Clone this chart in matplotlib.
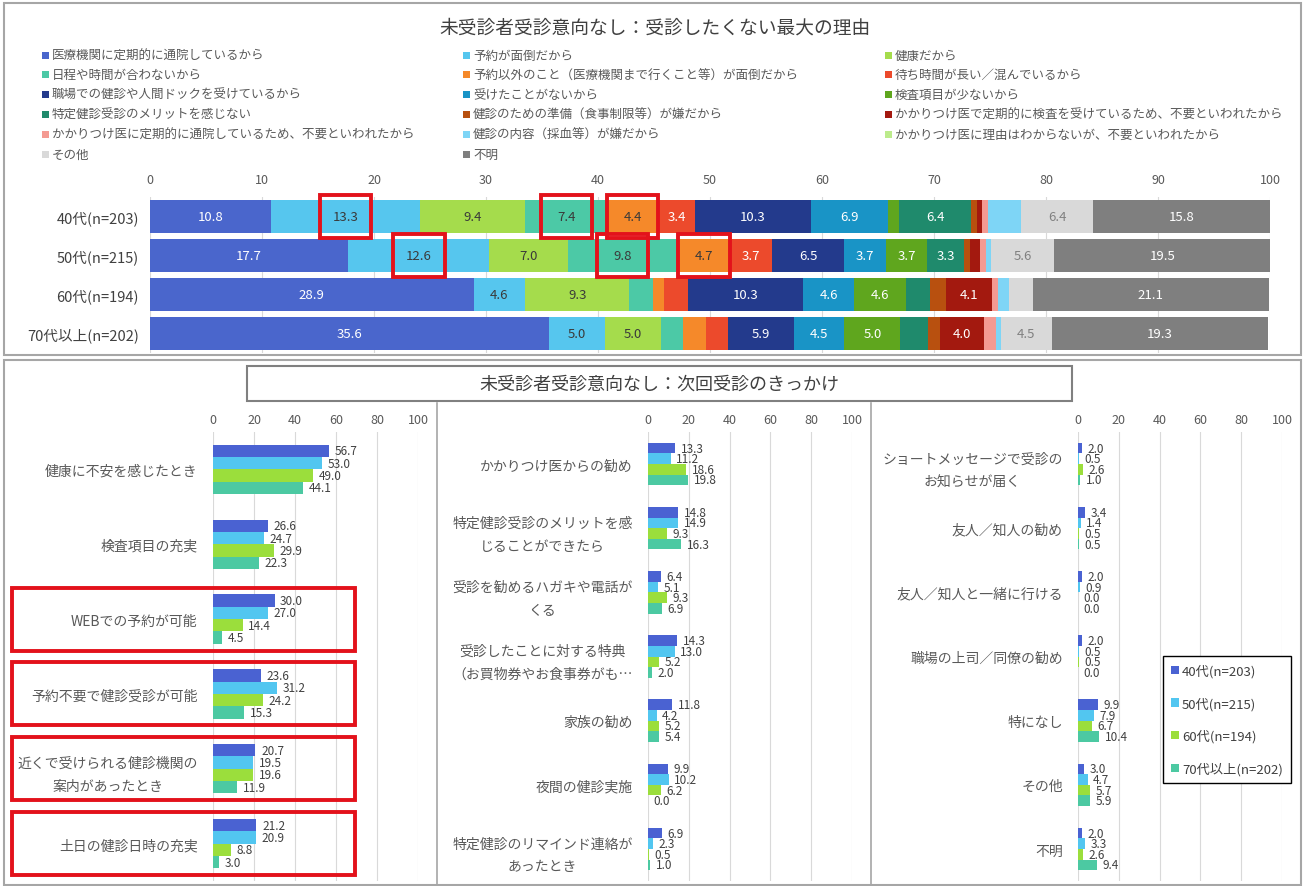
import matplotlib
matplotlib.use('Agg')
import matplotlib.pyplot as plt
from matplotlib.patches import Rectangle, Patch
import matplotlib.transforms as mtransforms
import numpy as np

plt.rcParams['font.family'] = ['Noto Sans CJK JP', 'DejaVu Sans']

W, H = 1306, 887

# ---------------- top chart data ----------------
ages = ['40代(n=203)', '50代(n=215)', '60代(n=194)', '70代以上(n=202)']
reasons = [
    '医療機関に定期的に通院しているから',
    '予約が面倒だから',
    '健康だから',
    '日程や時間が合わないから',
    '予約以外のこと（医療機関まで行くこと等）が面倒だから',
    '待ち時間が長い／混んでいるから',
    '職場での健診や人間ドックを受けているから',
    '受けたことがないから',
    '検査項目が少ないから',
    '特定健診受診のメリットを感じない',
    '健診のための準備（食事制限等）が嫌だから',
    'かかりつけ医で定期的に検査を受けているため、不要といわれたから',
    'かかりつけ医に定期的に通院しているため、不要といわれたから',
    '健診の内容（採血等）が嫌だから',
    'かかりつけ医に理由はわからないが、不要といわれたから',
    'その他',
    '不明',
]
reason_colors = ['#4A66CC', '#56C6EE', '#A5DC4C', '#4CC9A6', '#F5892A', '#EC4A2C',
                 '#233A8C', '#1994C6', '#5FA61E', '#1F8A6C', '#B8500F', '#A3190F',
                 '#F49A92', '#7ED5F6', '#BCEB8C', '#D9D9D9', '#7F7F7F']
label_colors = ['white', '#3A3A3A', '#3A3A3A', '#3A3A3A', '#3A3A3A', 'white',
                'white', 'white', 'white', 'white', 'white', 'white',
                '#3A3A3A', '#3A3A3A', '#3A3A3A', '#808080', 'white']

top_40 = [10.8, 13.3, 9.4, 7.4, 4.4, 3.4, 10.3, 6.9, 1.0, 6.4, 0.5, 0.5, 0.5, 3.0, 0.0, 6.4, 15.8]
top_50 = [17.7, 12.6, 7.0, 9.8, 4.7, 3.7, 6.5, 3.7, 3.7, 3.3, 0.5, 0.9, 0.5, 0.5, 0.0, 5.6, 19.5]
top_60 = [28.9, 4.6, 9.3, 2.1, 1.0, 2.1, 10.3, 4.6, 4.6, 2.1, 1.5, 4.1, 0.5, 1.0, 0.0, 2.1, 21.1]
top_70 = [35.6, 5.0, 5.0, 2.0, 2.0, 2.0, 5.9, 4.5, 5.0, 2.5, 1.0, 4.0, 1.0, 0.5, 0.0, 4.5, 19.3]

# highlighted (row, reason) pairs
top_marked = [(0, 1), (0, 3), (0, 4), (1, 1), (1, 3), (1, 4)]

# ---------------- bottom chart data ----------------
series_names = ['40代(n=203)', '50代(n=215)', '60代(n=194)', '70代以上(n=202)']
series_colors = ['#4A62D2', '#52C6F0', '#9BDE3C', '#4CC9A2']

p1_cats = ['健康に不安を感じたとき', '検査項目の充実', 'WEBでの予約が可能',
           '予約不要で健診受診が可能', '近くで受けられる健診機関の\n案内があったとき',
           '土日の健診日時の充実']
p1_40 = [56.7, 26.6, 30.0, 23.6, 20.7, 21.2]
p1_50 = [53.0, 24.7, 27.0, 31.2, 19.5, 20.9]
p1_60 = [49.0, 29.9, 14.4, 24.2, 19.6, 8.8]
p1_70 = [44.1, 22.3, 4.5, 15.3, 11.9, 3.0]

p2_cats = ['かかりつけ医からの勧め', '特定健診受診のメリットを感\nじることができたら',
           '受診を勧めるハガキや電話が\nくる', '受診したことに対する特典\n（お買物券やお食事券がも…',
           '家族の勧め', '夜間の健診実施', '特定健診のリマインド連絡が\nあったとき']
p2_40 = [13.3, 14.8, 6.4, 14.3, 11.8, 9.9, 6.9]
p2_50 = [11.2, 14.9, 5.1, 13.0, 4.2, 10.2, 2.3]
p2_60 = [18.6, 9.3, 9.3, 5.2, 5.2, 6.2, 0.5]
p2_70 = [19.8, 16.3, 6.9, 2.0, 5.4, 0.0, 1.0]

p3_cats = ['ショートメッセージで受診の\nお知らせが届く', '友人／知人の勧め', '友人／知人と一緒に行ける',
           '職場の上司／同僚の勧め', '特になし', 'その他', '不明']
p3_40 = [2.0, 3.4, 2.0, 2.0, 9.9, 3.0, 2.0]
p3_50 = [0.5, 1.4, 0.9, 0.5, 7.9, 4.7, 3.3]
p3_60 = [2.6, 0.5, 0.0, 0.5, 6.7, 5.7, 2.6]
p3_70 = [1.0, 0.5, 0.0, 0.0, 10.4, 5.9, 9.4]

p1_marked = [2, 3, 4, 5]

RED = '#E3121B'
GRID = '#D9D9D9'
TXT = '#595959'

fig = plt.figure(figsize=(W / 100, H / 100), dpi=100)


def px_axes(x0, y0, x1, y1):
    return fig.add_axes([x0 / W, 1 - y1 / H, (x1 - x0) / W, (y1 - y0) / H])


def px_rect(x0, y0, x1, y1, **kw):
    r = Rectangle((x0 / W, 1 - y1 / H), (x1 - x0) / W, (y1 - y0) / H,
                  transform=fig.transFigure, **kw)
    fig.patches.append(r)
    return r


# outer frames
px_rect(4, 4, 1301, 356, fill=False, edgecolor='#A6A6A6', lw=1.5)
px_rect(4, 361, 1301, 886, fill=False, edgecolor='#A6A6A6', lw=1.5)

# ---------------- top chart ----------------
fig.text(655 / W, 1 - 28 / H, '未受診者受診意向なし：受診したくない最大の理由',
         ha='center', va='center', fontsize=13.5, color='#404040')

leg_x = [42, 463, 885]
for k, (name, col) in enumerate(zip(reasons, reason_colors)):
    r, c = divmod(k, 3)
    y = 56 + r * 19.8
    px_rect(leg_x[c], y - 3.5, leg_x[c] + 7, y + 3.5, facecolor=col, edgecolor='none')
    fig.text((leg_x[c] + 10) / W, 1 - y / H, name, ha='left', va='center',
             fontsize=9, color=TXT)

ax = px_axes(150, 198, 1270, 354)
rows = np.arange(len(ages))
left = np.zeros(len(ages))
cols = [top_40, top_50, top_60, top_70]
for k in range(len(reasons)):
    vals = np.array([cols[r][k] for r in rows])
    ax.barh(rows, vals, left=left, height=0.86, color=reason_colors[k], zorder=2)
    for r in rows:
        if vals[r] >= 3.2:
            ax.text(left[r] + vals[r] / 2, r, f'{vals[r]:.1f}', ha='center', va='center',
                    fontsize=9.5, color=label_colors[k], zorder=3)
    left = left + vals

for r, k in top_marked:
    start = sum(cols[r][:k])
    cx = start + cols[r][k] / 2
    ax.add_patch(Rectangle((cx - 2.3, r - 0.55), 4.6, 1.1, fill=False, edgecolor=RED,
                           lw=2.8, zorder=4, clip_on=False))

ax.set_xlim(0, 100)
ax.set_ylim(3.5, -0.5)
ax.set_xticks(range(0, 101, 10))
ax.xaxis.tick_top()
ax.set_yticks(rows)
ax.set_yticklabels(ages)
ax.tick_params(axis='x', length=0, pad=8, labelsize=9, labelcolor=TXT)
ax.tick_params(axis='y', length=0, pad=8, labelsize=10.5, labelcolor='#404040')
ax.grid(axis='x', color=GRID, lw=0.8, zorder=0)
ax.set_axisbelow(True)
for s in ax.spines.values():
    s.set_visible(False)

# ---------------- bottom chart ----------------
px_rect(247, 367, 1072, 402, fill=False, edgecolor='#808080', lw=1.5)
fig.text(659 / W, 1 - 385 / H, '未受診者受診意向なし：次回受診のきっかけ',
         ha='center', va='center', fontsize=13, color='#404040')
for xv in [437, 871]:
    fig.add_artist(plt.Line2D([xv / W, xv / W], [1 - 404 / H, 1 - 886 / H],
                              transform=fig.transFigure, color='#A6A6A6', lw=1.2))

panels = [
    ((213, 418), p1_cats, [p1_40, p1_50, p1_60, p1_70]),
    ((648, 852), p2_cats, [p2_40, p2_50, p2_60, p2_70]),
    ((1078, 1282), p3_cats, [p3_40, p3_50, p3_60, p3_70]),
]
bh = 0.165
axes_b = []
for (x0, x1), cats, series in panels:
    bx = px_axes(x0, 433, x1, 882)
    axes_b.append(bx)
    yy = np.arange(len(cats))
    for j, (vals, col) in enumerate(zip(series, series_colors)):
        yj = yy + (j - 1.5) * bh
        bx.barh(yj, vals, height=bh, color=col, zorder=2)
        for y, v in zip(yj, vals):
            bx.annotate(f'{v:.1f}', (v, y), xytext=(4, 0), textcoords='offset points',
                        ha='left', va='center', fontsize=8.5, color='#404040')
    bx.set_xlim(0, 100)
    bx.set_ylim(len(cats) - 0.5, -0.5)
    bx.set_xticks(range(0, 101, 20))
    bx.xaxis.tick_top()
    bx.set_yticks(yy)
    bx.set_yticklabels(cats, multialignment='center', linespacing=1.8)
    bx.tick_params(axis='x', length=0, pad=4, labelsize=9, labelcolor=TXT)
    bx.tick_params(axis='y', length=0, pad=11, labelsize=10, labelcolor=TXT)
    bx.grid(axis='x', color=GRID, lw=0.8, zorder=0)
    bx.set_axisbelow(True)
    for s in bx.spines.values():
        s.set_visible(False)

# red boxes around panel 1 groups
tr = mtransforms.blended_transform_factory(fig.transFigure, axes_b[0].transData)
for i in p1_marked:
    fig.patches.append(Rectangle((12 / W, i - 0.42), (355 - 12) / W, 0.84, fill=False,
                                 edgecolor=RED, lw=2.8, transform=tr))

handles = [Patch(facecolor=c) for c in series_colors]
fig.legend(handles, series_names, loc='upper left', bbox_to_anchor=(1163 / W, 1 - 657 / H),
           borderaxespad=0, frameon=True, fancybox=False, edgecolor='black', framealpha=1,
           labelspacing=1.45, handlelength=0.6, handleheight=0.6, handletextpad=0.25,
           fontsize=9.5, borderpad=0.6, labelcolor='#404040')

fig.savefig('out.png', dpi=100, facecolor='white')
